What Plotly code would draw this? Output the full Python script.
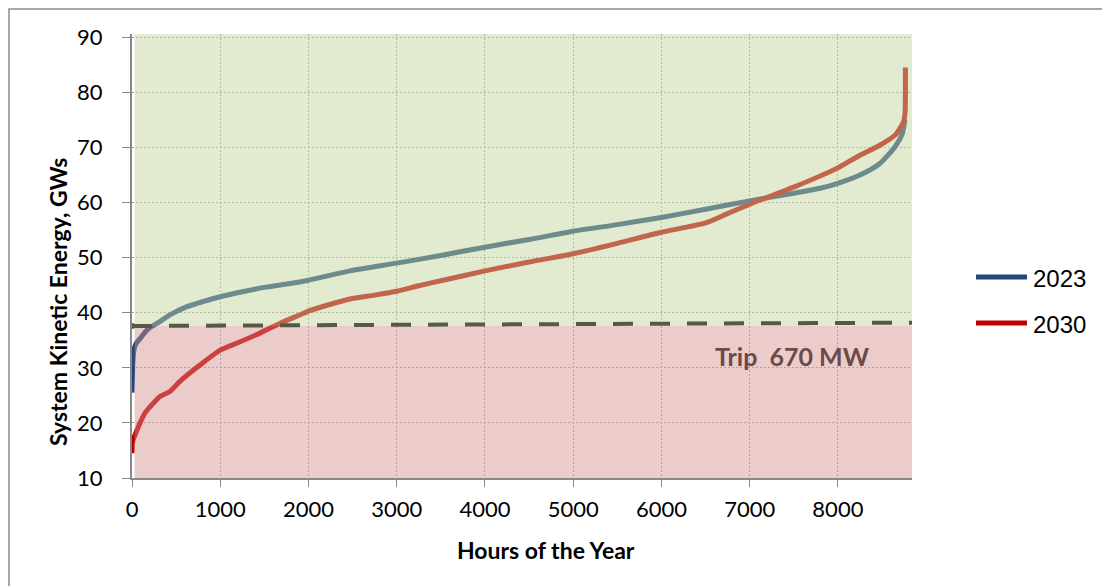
import plotly.graph_objects as go

# Hourly duration curves of system kinetic energy (GWs), sorted ascending
hours_2023 = [0, 10, 25, 50, 91, 150, 204, 317, 430, 623, 800, 1000, 1250, 1500, 1750,
              2000, 2470, 3000, 3500, 4000, 4500, 5000, 5500, 6000, 6500, 7000, 7500,
              7800, 8000, 8250, 8476, 8646, 8730, 8760]
energy_2023 = [25.5, 31.0, 33.5, 34.5, 35.3, 36.5, 37.3, 38.4, 39.6, 41.1, 42.0, 42.9, 43.8,
               44.6, 45.2, 45.9, 47.6, 49.0, 50.4, 51.9, 53.3, 54.8, 56.0, 57.3, 58.8,
               60.3, 61.7, 62.6, 63.5, 65.0, 67.1, 70.1, 72.5, 75.0]

hours_2030 = [0, 5, 34, 91, 147, 204, 317, 430, 540, 770, 1000, 1220, 1450, 1680, 1900,
              2000, 2240, 2470, 2750, 3000, 3250, 3500, 4000, 4500, 5000, 5500, 6000, 6500,
              6750, 7000, 7500, 8000, 8250, 8476, 8646, 8740, 8760, 8765]
energy_2030 = [14.5, 16.5, 17.8, 20.0, 21.8, 22.9, 24.8, 25.7, 27.5, 30.5, 33.2, 34.7, 36.3,
               38.1, 39.6, 40.3, 41.5, 42.5, 43.2, 43.9, 44.9, 45.8, 47.6, 49.2, 50.7, 52.6,
               54.6, 56.3, 58.0, 59.7, 62.8, 66.3, 68.6, 70.4, 72.2, 74.5, 76.0, 84.5]

series_names = ["2023", "2030"]
series_colors = ["#1f497d", "#c00000"]

# Trip threshold line (GWs) at start and end of the year
trip_level = [37.6, 38.2]
trip_label = "Trip\u00a0 670 MW"

x_ticks = [0, 1000, 2000, 3000, 4000, 5000, 6000, 7000, 8000]
y_ticks = [10, 20, 30, 40, 50, 60, 70, 80, 90]
x_range = [0, 8840]
y_range = [10, 90.6]

W, H = 1102, 586
L, R, T, B = 132, 912, 34, 478


def px(xp):
    return (xp - L) / (R - L)


def py(yp):
    return (B - yp) / (B - T)


fig = go.Figure()
for hrs, vals, name, col in [(hours_2023, energy_2023, series_names[0], series_colors[0]),
                             (hours_2030, energy_2030, series_names[1], series_colors[1])]:
    fig.add_trace(go.Scatter(x=hrs, y=vals, mode="lines", name=name,
                             line=dict(color=col, width=5, shape="spline", smoothing=0.6),
                             showlegend=False))

# small black end cap at the start of the trip line
fig.add_trace(go.Scatter(x=[0], y=[trip_level[0]], mode="markers", showlegend=False,
                         marker=dict(symbol="square", size=5, color="black")))

shapes = [
    # translucent zones laid over the curves
    dict(type="rect", xref="x", yref="y", x0=30, x1=x_range[1], y0=trip_level[0], y1=y_range[1],
         fillcolor="rgba(195,211,157,0.48)", line=dict(width=0), layer="above"),
    dict(type="rect", xref="x", yref="y", x0=30, x1=x_range[1], y0=y_range[0], y1=trip_level[0],
         fillcolor="rgba(214,144,140,0.46)", line=dict(width=0), layer="above"),
    # trip threshold
    dict(type="line", xref="x", yref="y", x0=0, x1=x_range[1], y0=trip_level[0], y1=trip_level[1],
         line=dict(color="#555a46", width=4, dash="20px,17px"), layer="above"),
    # outer frame
    dict(type="rect", xref="paper", yref="paper", x0=px(9), x1=px(1140), y0=py(640), y1=py(9),
         line=dict(color="#8c8c8c", width=1.5), fillcolor="rgba(0,0,0,0)", layer="below"),
]

# legend drawn as line swatches with labels
legend_rows = [277, 323]
annotations = []
for yp, name, col in zip(legend_rows, series_names, series_colors):
    shapes.append(dict(type="line", xref="paper", yref="paper", x0=px(976), x1=px(1027),
                       y0=py(yp), y1=py(yp), line=dict(color=col, width=5)))
    annotations.append(dict(xref="paper", yref="paper", x=px(1031), y=py(yp + 1), text=name,
                            showarrow=False, xanchor="left", yanchor="middle",
                            font=dict(family="Liberation Sans, Arial", size=24, color="black")))

annotations += [
    dict(xref="x", yref="y", x=7480, y=32.1, text=trip_label, showarrow=False,
         font=dict(family="Lato, Carlito, sans-serif", size=25, color="#6b4a4a", weight="bold")),
    dict(xref="paper", yref="paper", x=px(42), y=py(302), text="System Kinetic Energy, GWs",
         textangle=-90, showarrow=False,
         font=dict(family="Lato, Carlito, sans-serif", size=23, color="black", weight="bold")),
    dict(xref="paper", yref="paper", x=px(546), y=py(566), text="Hours of the Year",
         showarrow=False,
         font=dict(family="Lato, Carlito, sans-serif", size=23, color="black", weight="bold")),
]

fig.update_layout(
    width=W, height=H,
    margin=dict(l=L, r=W - R, t=T, b=H - B, pad=0),
    paper_bgcolor="white", plot_bgcolor="white",
    shapes=shapes, annotations=annotations, showlegend=False,
    font=dict(family="Lato, Carlito, sans-serif", size=22, color="black"),
)
fig.update_xaxes(range=x_range, tickvals=x_ticks, ticks="outside", ticklen=7, tickcolor="#888",
                 showline=True, linecolor="#888", linewidth=2, showgrid=True,
                 gridcolor="#a6a6a6", griddash="2px,2px", gridwidth=1, zeroline=False,
                 tickfont=dict(size=22), ticklabelstandoff=4)
fig.update_yaxes(range=y_range, tickvals=y_ticks, ticks="outside", ticklen=8, tickcolor="#888",
                 showline=True, linecolor="#888", linewidth=2, showgrid=True,
                 gridcolor="#a6a6a6", griddash="2px,2px", gridwidth=1, zeroline=False,
                 tickfont=dict(size=22), ticklabelstandoff=15)

fig.write_html("out.html")
